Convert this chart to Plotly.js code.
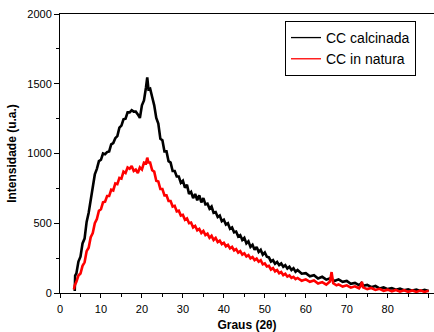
<!DOCTYPE html>
<html>
<head>
<meta charset="utf-8">
<script src="https://cdn.plot.ly/plotly-3.0.1.min.js"></script>
<style>html,body{margin:0;padding:0;background:#fff;}#chart{width:434px;height:332px;}</style>
</head>
<body>
<div id="chart"></div>
<script>
// CC calcinada (black)
const calcX = [3.6, 3.7, 4.0, 4.5, 5.0, 5.5, 6.0, 6.5, 7.0, 7.5, 8.0, 8.5, 9.0, 9.5, 10.0, 10.5, 11.0, 11.5, 12.0, 12.5, 13.0, 13.5, 14.0, 14.5, 15.0, 15.5, 16.0, 16.5, 17.0, 17.5, 18.0, 18.5, 19.0, 19.5, 20.0, 20.5, 21.0, 21.3, 21.6, 22.0, 22.5, 23.0, 23.5, 24.0, 24.5, 25.0, 25.5, 26.0, 26.5, 27.0, 27.5, 28.0, 28.5, 29.0, 29.5, 30.0, 30.5, 31.0, 31.5, 32.0, 32.5, 33.0, 33.5, 34.0, 34.5, 35.0, 35.5, 36.0, 36.5, 37.0, 37.5, 38.0, 38.5, 39.0, 39.5, 40.0, 40.5, 41.0, 41.5, 42.0, 42.5, 43.0, 43.5, 44.0, 44.5, 45.0, 45.5, 46.0, 46.5, 47.0, 47.5, 48.0, 48.5, 49.0, 49.5, 50.0, 50.5, 51.0, 51.5, 52.0, 52.5, 53.0, 53.5, 54.0, 54.5, 55.0, 55.5, 56.0, 56.5, 57.0, 57.5, 58.0, 59.0, 60.0, 61.0, 62.0, 63.0, 64.0, 65.0, 66.0, 67.0, 68.0, 69.0, 70.0, 71.0, 72.0, 73.0, 73.6, 74.0, 75.0, 76.0, 77.0, 78.0, 79.0, 80.0, 81.0, 82.0, 83.0, 84.0, 85.0, 86.0, 87.0, 88.0, 89.0, 90.0];
const calcY = [15, 125, 140, 225, 260, 355, 390, 510, 575, 670, 740, 850, 890, 945, 955, 1000, 995, 1010, 1015, 1065, 1075, 1110, 1125, 1185, 1200, 1245, 1250, 1295, 1295, 1310, 1300, 1300, 1280, 1255, 1345, 1380, 1475, 1545, 1460, 1465, 1405, 1345, 1255, 1215, 1105, 1095, 1015, 1015, 945, 935, 875, 875, 835, 835, 790, 805, 755, 775, 710, 725, 680, 710, 665, 700, 650, 680, 635, 640, 605, 620, 575, 580, 545, 555, 515, 525, 490, 500, 460, 470, 435, 440, 405, 415, 380, 395, 355, 370, 330, 345, 310, 330, 295, 310, 275, 290, 260, 255, 225, 235, 210, 222, 200, 212, 188, 200, 175, 188, 165, 178, 152, 165, 138, 142, 120, 128, 104, 116, 96, 106, 86, 98, 80, 86, 66, 72, 56, 72, 52, 58, 42, 50, 33, 40, 28, 35, 24, 31, 20, 27, 17, 24, 15, 22, 15];

// CC in natura (red)
const natX = [3.4, 3.6, 4.0, 4.5, 5.0, 5.5, 6.0, 6.5, 7.0, 7.5, 8.0, 8.5, 9.0, 9.5, 10.0, 10.5, 11.0, 11.5, 12.0, 12.5, 13.0, 13.5, 14.0, 14.5, 15.0, 15.5, 16.0, 16.5, 17.0, 17.5, 18.0, 18.5, 19.0, 19.5, 20.0, 20.5, 21.0, 21.3, 21.6, 22.0, 22.5, 23.0, 23.5, 24.0, 24.5, 25.0, 25.5, 26.0, 26.5, 27.0, 27.5, 28.0, 28.5, 29.0, 29.5, 30.0, 30.5, 31.0, 31.5, 32.0, 32.5, 33.0, 33.5, 34.0, 34.5, 35.0, 35.5, 36.0, 36.5, 37.0, 37.5, 38.0, 38.5, 39.0, 39.5, 40.0, 40.5, 41.0, 41.5, 42.0, 42.5, 43.0, 43.5, 44.0, 44.5, 45.0, 45.5, 46.0, 46.5, 47.0, 47.5, 48.0, 48.5, 49.0, 49.5, 50.0, 50.5, 51.0, 51.5, 52.0, 52.5, 53.0, 53.5, 54.0, 54.5, 55.0, 55.5, 56.0, 56.5, 57.0, 57.5, 58.0, 59.0, 60.0, 61.0, 62.0, 63.0, 64.0, 65.0, 65.9, 66.3, 66.7, 67.5, 68.0, 69.0, 70.0, 71.0, 72.0, 73.0, 73.4, 73.7, 74.0, 75.0, 76.0, 77.0, 78.0, 79.0, 80.0, 81.0, 82.0, 83.0, 84.0, 85.0, 86.0, 87.0, 88.0, 89.0, 90.0];
const natY = [25, 55, 80, 125, 140, 195, 220, 300, 325, 400, 430, 500, 530, 590, 600, 650, 655, 695, 695, 740, 735, 785, 780, 825, 820, 870, 860, 900, 890, 910, 875, 885, 860, 900, 885, 935, 930, 970, 935, 935, 880, 870, 805, 800, 745, 745, 700, 700, 660, 660, 620, 625, 585, 590, 555, 560, 525, 535, 500, 505, 470, 480, 450, 460, 430, 445, 415, 425, 395, 410, 380, 395, 365, 375, 350, 360, 335, 345, 320, 330, 305, 315, 290, 300, 275, 285, 262, 272, 248, 258, 236, 246, 224, 235, 205, 212, 190, 195, 168, 178, 155, 165, 142, 150, 128, 138, 118, 126, 108, 116, 100, 108, 88, 98, 80, 90, 68, 78, 60, 82, 150, 70, 55, 62, 46, 55, 38, 48, 34, 50, 80, 40, 28, 36, 22, 30, 16, 24, 12, 22, 10, 20, 8, 18, 8, 18, 8, 16];

const seriesNames = ['CC calcinada', 'CC in natura'];
const seriesColors = ['#000000', '#ff0000'];

const traces = [
  {x: calcX, y: calcY, type: 'scatter', mode: 'lines', name: seriesNames[0], showlegend: false,
   line: {color: seriesColors[0], width: 2.6}},
  {x: natX, y: natY, type: 'scatter', mode: 'lines', name: seriesNames[1], showlegend: false,
   line: {color: seriesColors[1], width: 2.6}},
  // legend entries with thin sample lines (as in the reference legend)
  {x: [null], y: [null], type: 'scatter', mode: 'lines', name: seriesNames[0],
   line: {color: seriesColors[0], width: 1.3}},
  {x: [null], y: [null], type: 'scatter', mode: 'lines', name: seriesNames[1],
   line: {color: seriesColors[1], width: 1.3}}
];

const fam = 'Liberation Sans, Arial, sans-serif';
const axisFont = {family: fam, size: 11, color: '#000'};

const layout = {
  width: 434, height: 332,
  margin: {l: 60, r: 0, t: 14, b: 39, pad: 0},
  paper_bgcolor: '#fff', plot_bgcolor: '#fff',
  showlegend: true,
  legend: {
    x: 0.6016, y: 0.975, xanchor: 'left', yanchor: 'top',
    bgcolor: '#fff', bordercolor: '#000', borderwidth: 1,
    font: {family: fam, size: 14, color: '#000'},
    itemwidth: 30, tracegroupgap: 0
  },
  xaxis: {
    range: [0, 91.3], showgrid: false, zeroline: false,
    showline: true, linecolor: '#000', linewidth: 1, mirror: true,
    ticks: 'outside', ticklen: 4, tickwidth: 1, tickcolor: '#000',
    tick0: 0, dtick: 10, ticklabelstandoff: 2,
    minor: {ticks: 'outside', ticklen: 3, dtick: 5, tickcolor: '#000', showgrid: false},
    tickfont: axisFont,
    title: {text: '<b>Graus (2θ)</b>', font: {family: fam, size: 12, color: '#000'}, standoff: 6}
  },
  yaxis: {
    range: [0, 2000], showgrid: false, zeroline: false,
    showline: true, linecolor: '#000', linewidth: 1,
    ticks: 'outside', ticklen: 5, tickwidth: 1, tickcolor: '#000',
    tick0: 0, dtick: 500,
    minor: {ticks: 'outside', ticklen: 3, dtick: 250, tickcolor: '#000', showgrid: false},
    tickfont: axisFont,
    title: {text: '<b>Intensidade (u.a.)</b>', font: {family: fam, size: 12, color: '#000'}, standoff: 8}
  }
};

Plotly.newPlot('chart', traces, layout, {displayModeBar: false, staticPlot: true});
</script>
</body>
</html>
